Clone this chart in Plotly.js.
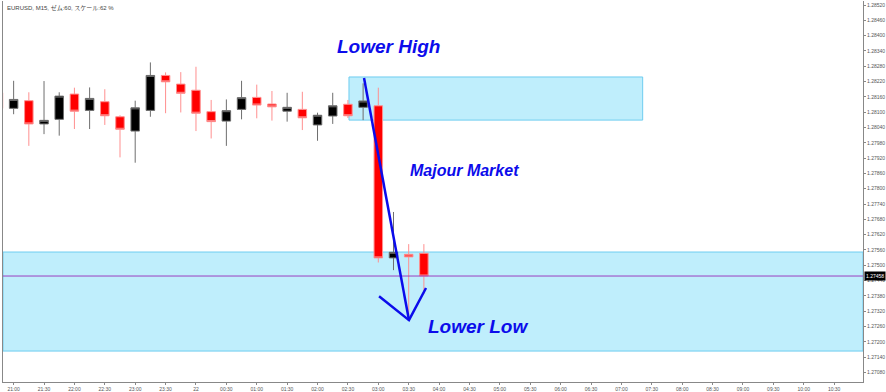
<!DOCTYPE html>
<html>
<head>
<meta charset="utf-8">
<script src="https://cdn.plot.ly/plotly-3.0.1.min.js"></script>
<style>html,body{margin:0;padding:0;background:#fff;}#chart{width:886px;height:392px;}</style>
</head>
<body>
<div id="chart"></div>
<script>
// 15-minute bars, index 0 = 21:00
const barIndex = [-1,0,1,2,3,4,5,6,7,8,9,10,11,12,13,14,15,16,17,18,19,20,21,22,23,24,25,26,27];
const openP  = [1.28176,1.28115,1.28145,1.28054,1.28072,1.28171,1.28107,1.28141,1.28082,1.28026,1.28107,1.28244,1.28210,1.28186,1.28102,1.28065,1.28111,1.28158,1.28132,1.28104,1.28111,1.28050,1.28085,1.28131,1.28119,1.28125,1.27529,1.27543,1.27547];
const highP  = [1.28194,1.28223,1.28178,1.28222,1.28178,1.28196,1.28197,1.28190,1.28088,1.28145,1.28295,1.28256,1.28257,1.28278,1.28148,1.28150,1.28223,1.28208,1.28183,1.28176,1.28180,1.28098,1.28176,1.28148,1.28213,1.28196,1.27709,1.27583,1.27583];
const lowP   = [1.28101,1.28092,1.27968,1.28014,1.28008,1.28034,1.28034,1.28050,1.27923,1.27902,1.28082,1.28096,1.28099,1.28026,1.27997,1.27968,1.28072,1.28076,1.28067,1.28063,1.28030,1.27988,1.28054,1.28077,1.28069,1.27511,1.27481,1.27293,1.27387];
const closeP = [1.28115,1.28150,1.28054,1.28068,1.28163,1.28104,1.28154,1.28086,1.28033,1.28117,1.28244,1.28219,1.28174,1.28096,1.28063,1.28106,1.28157,1.28128,1.28121,1.28119,1.28078,1.28088,1.28125,1.28086,1.28144,1.27529,1.27551,1.27533,1.27458];

const xTickVals = [0,2,4,6,8,10,12,14,16,18,20,22,24,26,28,30,32,34,36,38,40,42,44,46,48,50,52,54];
const xTickText = ["21:00","21:30","22:00","22:30","23:00","23:30","22","00:30","01:00","01:30","02:00","02:30","03:00","03:30","04:00","04:30","05:00","05:30","06:00","06:30","07:00","07:30","08:00","08:30","09:00","09:30","10:00","10:30"];
const yTickVals = [1.27080,1.27140,1.27200,1.27260,1.27320,1.27380,1.27440,1.27500,1.27560,1.27620,1.27680,1.27740,1.27800,1.27860,1.27920,1.27980,1.28040,1.28100,1.28160,1.28220,1.28280,1.28340,1.28400,1.28460,1.28520];

const currentPrice = 1.27458;
// zones (bar index / price)
const upperZone = {x0: 22.07, x1: 41.4, y0: 1.28069, y1: 1.28238};
const lowerZone = {y0: 1.27164, y1: 1.27552};
const trendLine = {x: [23.06, 26.02], y: [1.28234, 1.27285]};
const arrowHead = {x: [24.05, 26.02, 27.14], y: [1.27379, 1.27285, 1.27411]};

const zoneFill = 'rgb(191,238,252)';
const zoneLine = 'rgb(110,205,240)';
const blue = 'rgb(12,12,235)';

const trace = {
  type: 'candlestick',
  x: barIndex, open: openP, high: highP, low: lowP, close: closeP,
  increasing: {line: {color: '#6e6e6e', width: 1}, fillcolor: '#000000'},
  decreasing: {line: {color: '#ff8f8f', width: 1}, fillcolor: '#ff0000'},
  whiskerwidth: 0,
  hoverinfo: 'skip',
  showlegend: false
};

const arrowPath = 'M ' + arrowHead.x.map((v,i)=> v + ',' + arrowHead.y[i]).join(' L ');

const layout = {
  width: 886, height: 392,
  margin: {l: 3, r: 23, t: 1, b: 10, pad: 0},
  paper_bgcolor: '#ffffff', plot_bgcolor: '#ffffff',
  showlegend: false,
  boxgap: 0.2,
  font: {family: 'Liberation Sans, Arial, sans-serif', color: '#555'},
  xaxis: {
    range: [-0.7, 55.9], fixedrange: true,
    rangeslider: {visible: false},
    tickmode: 'array', tickvals: xTickVals, ticktext: xTickText,
    ticks: 'outside', ticklen: 2, tickcolor: '#888', tickwidth: 1,
    tickfont: {size: 5, color: '#555'},
    showgrid: false, zeroline: false,
    showline: true, linecolor: '#888', linewidth: 1
  },
  yaxis: {
    side: 'right',
    range: [1.270427, 1.285357], fixedrange: true,
    tickmode: 'array', tickvals: yTickVals,
    tickformat: '.5f',
    ticks: 'outside', ticklen: 2, tickcolor: '#888', tickwidth: 1,
    tickfont: {size: 5, color: '#555'},
    showgrid: false, zeroline: false,
    showline: true, linecolor: '#888', linewidth: 1, mirror: true
  },
  shapes: [
    {type: 'rect', xref: 'paper', yref: 'y', x0: 0, x1: 1, y0: lowerZone.y0, y1: lowerZone.y1,
     fillcolor: zoneFill, line: {color: zoneLine, width: 1}, layer: 'below'},
    {type: 'rect', xref: 'x', yref: 'y', x0: upperZone.x0, x1: upperZone.x1, y0: upperZone.y0, y1: upperZone.y1,
     fillcolor: zoneFill, line: {color: zoneLine, width: 1}, layer: 'below'},
    {type: 'line', xref: 'paper', yref: 'y', x0: 0, x1: 1, y0: currentPrice, y1: currentPrice,
     line: {color: '#9b3fc0', width: 1}, layer: 'above'},
    {type: 'line', xref: 'x', yref: 'y', x0: trendLine.x[0], x1: trendLine.x[1], y0: trendLine.y[0], y1: trendLine.y[1],
     line: {color: blue, width: 2.5}, layer: 'above'},
    {type: 'path', xref: 'x', yref: 'y', path: arrowPath,
     line: {color: blue, width: 2.5}, layer: 'above'}
  ],
  annotations: [
    {xref: 'paper', yref: 'paper', x: 0.002, y: 0.997, xanchor: 'left', yanchor: 'top', showarrow: false,
     text: 'EURUSD, M15, ゼム:60, スケール:62 %', font: {size: 6, color: '#444', family: 'Liberation Sans, Noto Sans CJK JP, sans-serif'}},
    {xref: 'x', yref: 'y', x: 24.64, y: 1.28359, showarrow: false, text: '<b><i>Lower High</i></b>',
     font: {size: 19, color: blue, family: 'Liberation Sans, Arial, sans-serif'}},
    {xref: 'x', yref: 'y', x: 29.70, y: 1.27873, showarrow: false, text: '<b><i>Majour Market</i></b>',
     font: {size: 16, color: blue, family: 'Liberation Sans, Arial, sans-serif'}},
    {xref: 'x', yref: 'y', x: 30.56, y: 1.27262, showarrow: false, text: '<b><i>Lower Low</i></b>',
     font: {size: 19, color: blue, family: 'Liberation Sans, Arial, sans-serif'}},
    {xref: 'paper', yref: 'y', x: 1, y: currentPrice, xanchor: 'left', yanchor: 'middle', xshift: 1, showarrow: false,
     text: currentPrice.toFixed(5), bgcolor: '#000000', borderpad: 1,
     font: {size: 5, color: '#ffffff', family: 'Liberation Sans, Arial, sans-serif'}}
  ]
};

Plotly.newPlot('chart', [trace], layout, {displayModeBar: false, staticPlot: true});
</script>
</body>
</html>
